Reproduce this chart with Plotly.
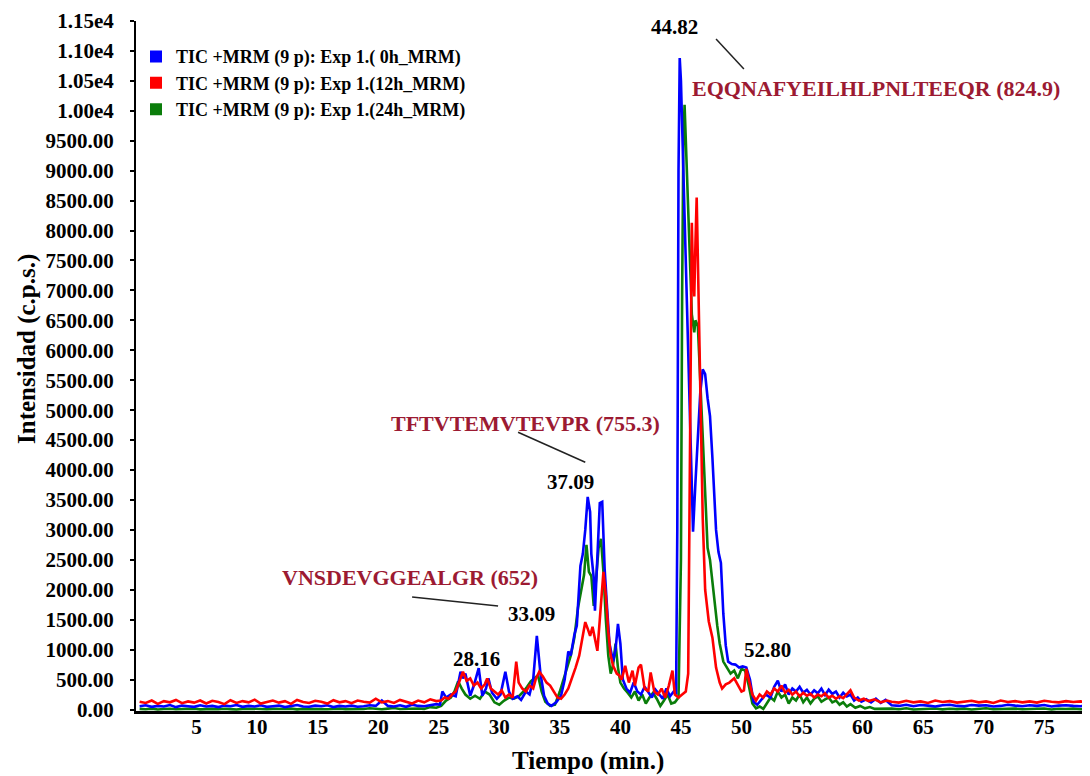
import plotly.graph_objects as go

# ---------------- data ----------------
t_head = [0.3, 0.8, 1.3, 1.8, 2.3, 2.8, 3.3, 3.8, 4.3, 4.8, 5.3, 5.8, 6.3, 6.8, 7.3, 7.8, 8.3, 8.8, 9.3, 9.8,
          10.3, 10.8, 11.3, 11.8, 12.3, 12.8, 13.3, 13.8, 14.3, 14.8, 15.3, 15.8, 16.3, 16.8, 17.3, 17.8, 18.3, 18.8, 19.3, 19.8,
          20.3, 20.8, 21.3, 21.8, 22.3, 22.8, 23.3, 23.8, 24.3, 24.8]
t_tail = [62.4, 63.0, 63.6, 64.2, 64.8, 65.4, 66.0, 66.6, 67.2, 67.8, 68.4, 69.0, 69.6, 70.2, 70.8, 71.4, 72.0, 72.6,
          73.2, 73.8, 74.4, 75.0, 75.6, 76.2, 76.8, 77.4, 78.0, 78.6, 79.0]

# Blue: 0h
blue_head = [55, 70, 45, 60, 50, 75, 40, 65, 55, 45, 70, 50, 60, 40, 65, 55, 75, 45, 60, 50,
             70, 45, 55, 65, 40, 60, 75, 50, 45, 65, 55, 70, 40, 60, 50, 65, 45, 55, 70, 60,
             150, 60, 50, 70, 45, 80, 60, 55, 70, 90]
t_mid_blue = [25.1, 25.3, 25.6, 26.0, 26.4, 26.8, 27.0, 27.2, 27.6, 27.9,
              28.3, 28.6, 28.9, 29.1, 29.4, 29.8, 30.1, 30.5, 30.8, 31.1,
              31.5, 31.8, 32.2, 32.5, 32.8, 33.1, 33.4, 33.7, 34.0, 34.3,
              34.7, 35.1, 35.4, 35.7, 35.9, 36.2, 36.4, 36.7, 36.9, 37.1,
              37.3, 37.5, 37.6, 37.8, 37.9, 38.1, 38.3, 38.5, 38.7, 38.9,
              39.1, 39.4, 39.6, 39.8, 40.0, 40.2, 40.5, 40.8, 41.1, 41.4,
              41.7, 42.0, 42.3, 42.6, 42.9, 43.2, 43.5, 43.8, 44.1, 44.4,
              44.6, 44.7, 44.8, 44.9, 45.0, 45.2, 45.4, 45.6, 45.8, 46.0,
              46.2, 46.4, 46.6, 46.8, 47.0, 47.2, 47.4, 47.6, 47.7, 47.9,
              48.1, 48.3, 48.5, 48.7, 48.9, 49.2, 49.5, 49.8, 50.1, 50.4,
              50.7, 51.0, 51.3, 51.6, 52.0, 52.4, 52.7, 53.0, 53.3, 53.6,
              53.9, 54.2, 54.5, 54.8, 55.1, 55.4, 55.7, 56.0, 56.3, 56.6,
              56.9, 57.2, 57.5, 57.8, 58.1, 58.4, 58.7, 59.0, 59.3, 59.6,
              59.9, 60.3, 60.7, 61.1, 61.5, 61.9]
blue_mid = [80, 300, 200, 250, 220, 630, 520, 600, 230, 400,
            690, 230, 350, 520, 280, 180, 250, 630, 300, 180,
            220, 160, 300, 250, 500, 1230, 600, 230, 100, 60,
            120, 230, 500, 970, 900, 1250, 1400, 2400, 2600, 3000,
            3550, 3300, 2600, 2200, 1650, 2500, 3450, 3470, 2350, 1700,
            1100, 800, 1000, 1430, 1100, 500, 350, 280, 450, 300,
            250, 380, 300, 200, 330, 250, 180, 350, 220, 300,
            250, 3000, 9000, 10880, 10500, 9000, 7600, 6200, 4500, 2970,
            3800, 4600, 5300, 5680, 5600, 5200, 4900, 4200, 3700, 3000,
            2630, 2450, 1600, 1070, 800, 760, 750, 700, 720, 700,
            500, 130, 80, 150, 250, 200, 380, 480, 300, 420,
            250, 350, 300, 380, 280, 330, 250, 320, 270, 350,
            240, 330, 260, 300, 200, 280, 220, 250, 150, 200,
            130, 170, 120, 180, 110, 160]
blue_tail = [70, 60, 80, 55, 75, 65, 50, 70, 80, 60, 55, 75, 65, 70, 50, 60, 80, 65, 55, 70,
             60, 75, 50, 65, 70, 60, 55, 70, 65]

# Green: 24h
green_head = [10, 5, 15, 0, 8, 12, 3, 10, 6, 14, 2, 9, 11, 4, 13, 7, 0, 10, 5, 12,
              8, 3, 11, 6, 9, 14, 2, 10, 7, 5, 12, 4, 9, 15, 6, 3, 11, 8, 20, 10,
              5, 14, 25, 8, 12, 6, 18, 10, 40, 30]
t_mid_green = [25.2, 25.6, 26.0, 26.3, 26.6, 26.9, 27.2, 27.6, 28.0, 28.4,
               28.8, 29.2, 29.6, 30.0, 30.4, 30.8, 31.2, 31.6, 32.0, 32.3,
               32.6, 32.9, 33.2, 33.5, 33.8, 34.2, 34.6, 35.0, 35.3, 35.6,
               35.9, 36.2, 36.5, 36.8, 37.0, 37.2, 37.4, 37.6, 37.8, 38.0,
               38.2, 38.4, 38.6, 38.8, 39.0, 39.2, 39.4, 39.6, 39.8, 40.0,
               40.3, 40.6, 40.9, 41.2, 41.5, 41.8, 42.1, 42.4, 42.7, 43.0,
               43.3, 43.6, 43.9, 44.2, 44.5, 44.8, 45.0, 45.1, 45.2, 45.3,
               45.5, 45.7, 45.9, 46.1, 46.2, 46.4, 46.6, 46.8, 47.0, 47.2,
               47.4, 47.6, 47.8, 48.0, 48.2, 48.5, 48.8, 49.1, 49.4, 49.7,
               50.0, 50.3, 50.6, 50.9, 51.2, 51.5, 51.8, 52.1, 52.4, 52.7,
               53.0, 53.3, 53.6, 53.9, 54.2, 54.5, 54.8, 55.1, 55.4, 55.7,
               56.0, 56.3, 56.6, 56.9, 57.2, 57.5, 57.8, 58.1, 58.4, 58.7,
               59.0, 59.4, 59.8, 60.2, 60.6, 61.0, 61.5]
green_mid = [60, 150, 200, 300, 470, 350, 250, 180, 230, 180,
             300, 250, 120, 80, 150, 200, 180, 220, 300, 380,
             470, 520, 570, 300, 130, 60, 80, 300, 520, 700,
             900, 1200, 1700, 2000, 2250, 2750, 2300, 2230, 1730, 2200,
             2700, 2850, 2300, 1500, 900, 600, 750, 1100, 700, 450,
             350, 280, 200, 300, 150, 250, 100, 200, 280, 180,
             60, 150, 250, 100, 120, 200, 2500, 7000, 9500, 10100,
             9000, 7800, 6600, 6300, 6500, 6400, 5500, 4500, 3500, 2700,
             2500, 2100, 1800, 1400, 1100, 800, 700, 600, 650, 520,
             680, 650, 400, 100, 20, 50, 10, 100, 200, 150,
             300, 200, 250, 100, 200, 150, 250, 120, 200, 100,
             180, 220, 130, 170, 200, 120, 150, 80, 120, 50,
             90, 30, 60, 20, 40, 10, 15]
green_tail = [15, 5, 20, 0, 10, 8, 18, 3, 12, 6, 15, 0, 10, 20, 5, 12, 8, 15, 3, 10,
              6, 18, 0, 12, 8, 15, 5, 10, 12]

# Red: 12h
red_head = [130, 110, 150, 95, 140, 120, 160, 105, 135, 115, 150, 100, 145, 125, 90, 155, 110, 140, 120, 165,
            100, 130, 150, 115, 140, 95, 160, 125, 110, 145, 130, 100, 155, 120, 140, 105, 150, 130, 115, 180,
            120, 140, 110, 160, 130, 100, 150, 120, 170, 140]
t_mid_red = [25.2, 25.5, 25.8, 26.1, 26.4, 26.7, 27.0, 27.3, 27.6, 27.9,
             28.2, 28.5, 28.8, 29.0, 29.3, 29.6, 29.9, 30.2, 30.5, 30.8,
             31.1, 31.4, 31.6, 31.9, 32.2, 32.5, 32.8, 33.0, 33.3, 33.6,
             33.9, 34.2, 34.5, 34.8, 35.1, 35.4, 35.7, 36.0, 36.3, 36.6,
             36.9, 37.1, 37.3, 37.5, 37.7, 37.9, 38.1, 38.3, 38.5, 38.6,
             38.8, 39.0, 39.2, 39.4, 39.7, 39.9, 40.1, 40.4, 40.7, 41.0,
             41.2, 41.5, 41.7, 42.0, 42.3, 42.5, 42.8, 43.1, 43.4, 43.7,
             44.0, 44.3, 44.5, 44.8, 45.1, 45.4, 45.6, 45.7, 45.8, 45.9,
             46.0, 46.1, 46.2, 46.3, 46.4, 46.6, 46.8, 47.0, 47.3, 47.6,
             47.9, 48.2, 48.4, 48.7, 49.0, 49.4, 49.7, 50.0, 50.2, 50.4,
             50.6, 50.9, 51.2, 51.5, 51.8, 52.1, 52.4, 52.7, 53.0, 53.3,
             53.6, 53.9, 54.2, 54.5, 54.8, 55.1, 55.4, 55.7, 56.0, 56.3,
             56.6, 56.9, 57.2, 57.5, 57.8, 58.1, 58.4, 58.7, 59.0, 59.3,
             59.7, 60.1, 60.5, 61.0, 61.5, 62.0]
red_mid = [150, 200, 180, 250, 300, 450, 630, 480, 520, 400,
           450, 350, 420, 520, 350, 300, 250, 320, 200, 250,
           200, 800, 450, 350, 300, 400, 350, 500, 630, 550,
           450, 400, 300, 200, 180, 250, 350, 520, 700, 900,
           1200, 1460, 1350, 1230, 1380, 1200, 980, 1500, 2100, 2300,
           1900, 1300, 900, 730, 600, 570, 500, 730, 450, 650,
           400, 700, 750, 350, 300, 620, 300, 250, 350, 200,
           400, 650, 250, 200, 250, 300, 600, 3500, 7000, 8130,
           7200, 6900, 7800, 8550, 7500, 5500, 3200, 2000, 1470, 1200,
           700, 450, 350, 420, 450, 520, 400, 300, 320, 680,
           500, 250, 150, 250, 200, 300, 250, 350, 300, 400,
           280, 330, 250, 300, 220, 280, 230, 260, 200, 250,
           220, 270, 200, 230, 180, 220, 190, 260, 320, 200,
           150, 180, 140, 170, 120, 150]
red_tail = [130, 115, 145, 120, 135, 110, 150, 125, 140, 115, 130, 145, 120, 135, 110, 150, 125, 140, 120, 135,
            115, 145, 130, 120, 140, 125, 135, 115, 130]

for a, b in [(t_mid_blue, blue_mid), (t_mid_green, green_mid), (t_mid_red, red_mid),
             (t_head, blue_head), (t_head, green_head), (t_head, red_head),
             (t_tail, blue_tail), (t_tail, green_tail), (t_tail, red_tail)]:
    assert len(a) == len(b), (len(a), len(b))

series_names = ["TIC +MRM (9 p): Exp 1.( 0h_MRM)",
                "TIC +MRM (9 p): Exp 1.(12h_MRM)",
                "TIC +MRM (9 p): Exp 1.(24h_MRM)"]
series_colors = ["#0000ff", "#ff0000", "#0a7d0a"]

y_tickvals = list(range(0, 11501, 500))
y_ticktext = [f"{v:.2f}" if v < 10000 else f"{v / 1e4:.2f}e4" for v in y_tickvals]
x_tickvals = [5, 10, 15, 20, 25, 30, 35, 40, 45, 50, 55, 60, 65, 70, 75]

peak_labels = [("44.82", 44.47, 11400), ("37.09", 35.92, 3800), ("33.09", 32.66, 1600),
               ("28.16", 28.08, 840), ("52.80", 52.15, 1000)]
peptide_labels = [("EQQNAFYEILHLPNLTEEQR (824.9)", 61.1, 10370),
                  ("TFTVTEMVTEVPR (755.3)", 32.2, 4770),
                  ("VNSDEVGGEALGR (652)", 22.6, 2200)]
leader_lines = [(47.9, 11200, 50.2, 10700), (31.55, 4630, 37.1, 4130), (22.8, 1880, 29.9, 1730)]

# ---------------- figure ----------------
FONT = "Liberation Serif"
fig = go.Figure()

traces = {
    "blue": (t_head + t_mid_blue + t_tail, blue_head + blue_mid + blue_tail, series_colors[0]),
    "red": (t_head + t_mid_red + t_tail, red_head + red_mid + red_tail, series_colors[1]),
    "green": (t_head + t_mid_green + t_tail, green_head + green_mid + green_tail, series_colors[2]),
}
for key in ["green", "blue", "red"]:
    xs, ys, col = traces[key]
    fig.add_trace(go.Scatter(x=xs, y=ys, mode="lines", line=dict(color=col, width=2.6),
                             showlegend=False, hoverinfo="x+y"))

# legend entries (square markers)
for name, col in zip(series_names, series_colors):
    fig.add_trace(go.Scatter(x=[None], y=[None], mode="markers", name=name,
                             marker=dict(symbol="square", size=12, color=col)))

annotations = []
for txt, x, y in peak_labels:
    annotations.append(dict(x=x, y=y, xref="x", yref="y", text=txt, showarrow=False,
                            font=dict(family=FONT, size=21, color="black", weight="bold")))
for txt, x, y in peptide_labels:
    annotations.append(dict(x=x, y=y, xref="x", yref="y", text=txt, showarrow=False,
                            font=dict(family=FONT, size=22, color="#9c1a32", weight="bold")))
annotations.append(dict(x=-0.114, y=0.525, xref="paper", yref="paper", text="Intensidad (c.p.s.)",
                        textangle=-90, showarrow=False, xanchor="center", yanchor="middle",
                        font=dict(family=FONT, size=25, color="black", weight="bold")))
annotations.append(dict(x=0.474, y=-0.073, xref="paper", yref="paper", text="Tiempo (min.)",
                        showarrow=False, xanchor="center", yanchor="middle",
                        font=dict(family=FONT, size=25, color="black", weight="bold")))

shapes = [dict(type="line", xref="x", yref="y", x0=a, y0=b, x1=c, y1=d,
               line=dict(color="#222222", width=1.5)) for a, b, c, d in leader_lines]

# page body has an 8px margin: size the figure so the plot area lands where the reference has it
fig.update_layout(
    width=1082, height=768,
    margin=dict(l=128, r=0, t=13, b=65),
    paper_bgcolor="white", plot_bgcolor="white",
    annotations=annotations, shapes=shapes,
    legend=dict(x=0.0, y=0.975, xanchor="left", yanchor="top", bgcolor="rgba(0,0,0,0)",
                font=dict(family=FONT, size=18, color="black", weight="bold"),
                tracegroupgap=0, itemwidth=30),
    xaxis=dict(range=[0, 78.78], tickvals=x_tickvals, ticks="", showgrid=False, zeroline=False,
               showline=True, linecolor="black", linewidth=2.5, ticklabelstandoff=-5,
               tickfont=dict(family=FONT, size=21, color="black", weight="bold")),
    yaxis=dict(range=[-25, 11500], tickvals=y_tickvals, ticktext=y_ticktext, ticks="outside",
               ticklen=4, tickwidth=1.5, tickcolor="black", showgrid=False, zeroline=False,
               showline=True, linecolor="black", linewidth=2, ticklabelstandoff=12,
               tickfont=dict(family=FONT, size=21, color="black", weight="bold")),
)

fig.write_html("out.html")
